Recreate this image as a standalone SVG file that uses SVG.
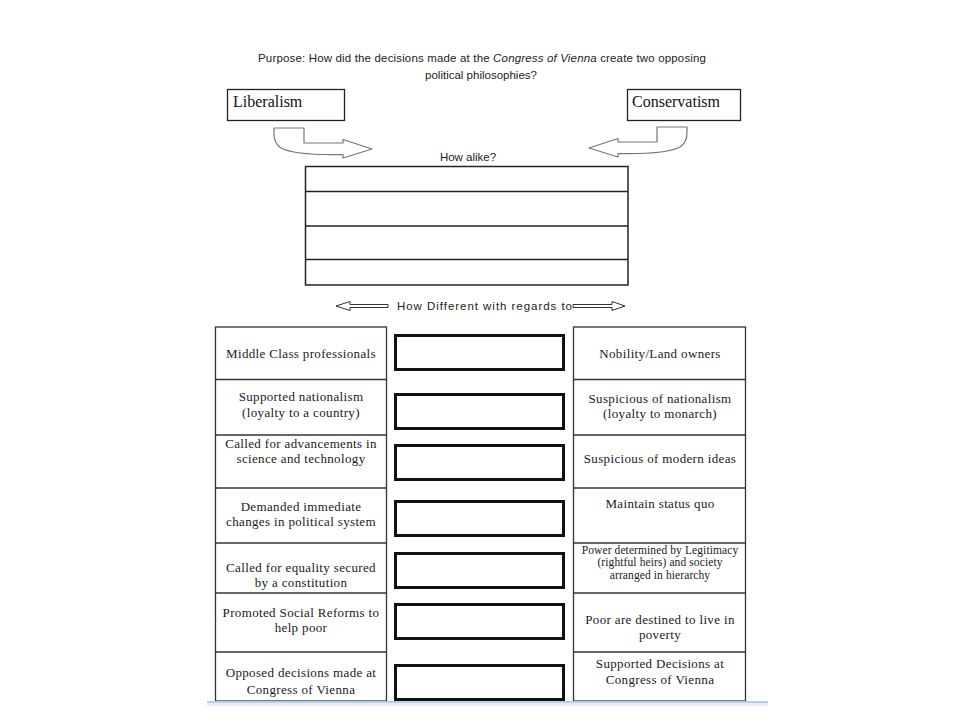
<svg xmlns="http://www.w3.org/2000/svg" width="960" height="720" viewBox="0 0 960 720">
<style>
.bg{fill:#ffffff}
.comic{font-family:"Liberation Sans","DejaVu Sans",sans-serif;fill:#222;font-size:11.5px}
.hdr{fill:#fff;stroke:#222;stroke-width:1.3}
.hdrt{font-family:"Liberation Serif","Times New Roman",serif;font-size:16px;fill:#111}
.col{fill:#fff;stroke:#333;stroke-width:1.3}
.row{stroke:#333;stroke-width:1.3}
.mid{fill:#fff;stroke:#111;stroke-width:3}
.cell{font-family:"Liberation Serif","Times New Roman",serif;font-size:13px;fill:#1a1a1a;text-anchor:middle;letter-spacing:0.35px}
.small{font-size:11.5px;letter-spacing:0.1px}
.curv{fill:#fff;stroke:#777;stroke-width:1.2;stroke-linejoin:round}
.dbl{fill:#fff;stroke:#333;stroke-width:1}
.sim{fill:#fff;stroke:#222;stroke-width:1.5}
</style>
<rect class="bg" x="0" y="0" width="960" height="720"/>

<g id="title">
<text class="comic" x="258" y="62" textLength="448">Purpose: How did the decisions made at the <tspan font-style="italic">Congress of Vienna</tspan> create two opposing</text>
<text class="comic" x="481" y="79" text-anchor="middle">political philosophies?</text>
</g>

<g id="liberalism">
<rect class="hdr" x="227.5" y="89.5" width="117" height="31"/>
<text class="hdrt" x="233" y="107">Liberalism</text>
</g>
<g id="conservatism">
<rect class="hdr" x="627.5" y="89.5" width="113" height="31"/>
<text class="hdrt" x="632" y="107">Conservatism</text>
</g>

<g id="connectors">
<path class="curv" d="M274,128 L304,128 L304,143 L343,143 L343,139.5 L372,149 L343,158 L343,154.5 C318,155 292,154 281,148 C275,144 274,139 274,134 Z"/>
<path class="curv" transform="matrix(-1,0,0,1,961,-1)" d="M274,128 L304,128 L304,143 L343,143 L343,139.5 L372,149 L343,158 L343,154.5 C318,155 292,154 281,148 C275,144 274,139 274,134 Z"/>
<path class="dbl" d="M336,306 L350,301.5 L350,304.5 L388,304.5 L388,307.5 L350,307.5 L350,310.5 Z"/>
<path class="dbl" d="M573,304.5 L612,304.5 L612,301.5 L625,306 L612,310.5 L612,307.5 L573,307.5 Z"/>
</g>

<g id="how-alike">
<text class="comic" x="468" y="161" text-anchor="middle" font-size="12">How alike?</text>
<rect class="sim" x="305.5" y="166.5" width="322.5" height="118.5"/>
<line class="sim" x1="305.5" y1="191.5" x2="628" y2="191.5"/>
<line class="sim" x1="305.5" y1="226" x2="628" y2="226"/>
<line class="sim" x1="305.5" y1="259.5" x2="628" y2="259.5"/>
</g>

<g id="how-different">
<text class="comic" x="397" y="309.5" textLength="175">How Different with regards to</text>
</g>

<g id="liberal-column">
<rect class="col" x="215.5" y="327" width="171" height="374"/>
<line class="row" x1="215.5" y1="379.5" x2="386.5" y2="379.5"/>
<line class="row" x1="215.5" y1="435" x2="386.5" y2="435"/>
<line class="row" x1="215.5" y1="488" x2="386.5" y2="488"/>
<line class="row" x1="215.5" y1="543" x2="386.5" y2="543"/>
<line class="row" x1="215.5" y1="593" x2="386.5" y2="593"/>
<line class="row" x1="215.5" y1="652" x2="386.5" y2="652"/>
<text class="cell" x="301" y="358">Middle Class professionals</text>
<text class="cell" x="301" y="401">Supported nationalism</text>
<text class="cell" x="301" y="416.5">(loyalty to a country)</text>
<text class="cell" x="301" y="448">Called for advancements in</text>
<text class="cell" x="301" y="463">science and technology</text>
<text class="cell" x="301" y="511">Demanded immediate</text>
<text class="cell" x="301" y="526">changes in political system</text>
<text class="cell" x="301" y="572">Called for equality secured</text>
<text class="cell" x="301" y="587">by a constitution</text>
<text class="cell" x="301" y="617">Promoted Social Reforms to</text>
<text class="cell" x="301" y="632">help poor</text>
<text class="cell" x="301" y="677">Opposed decisions made at</text>
<text class="cell" x="301" y="694">Congress of Vienna</text>
</g>

<g id="answer-boxes">
<rect class="mid" x="395.5" y="335.5" width="168" height="34"/>
<rect class="mid" x="395.5" y="394.5" width="168" height="34"/>
<rect class="mid" x="395.5" y="445.5" width="168" height="34"/>
<rect class="mid" x="395.5" y="501.5" width="168" height="34"/>
<rect class="mid" x="395.5" y="553.5" width="168" height="34"/>
<rect class="mid" x="395.5" y="604.5" width="168" height="34"/>
<rect class="mid" x="395.5" y="665.5" width="168" height="34"/>
</g>

<g id="conservative-column">
<rect class="col" x="573.5" y="327" width="172" height="374"/>
<line class="row" x1="573.5" y1="379.5" x2="745.5" y2="379.5"/>
<line class="row" x1="573.5" y1="435" x2="745.5" y2="435"/>
<line class="row" x1="573.5" y1="488" x2="745.5" y2="488"/>
<line class="row" x1="573.5" y1="543" x2="745.5" y2="543"/>
<line class="row" x1="573.5" y1="593" x2="745.5" y2="593"/>
<line class="row" x1="573.5" y1="652" x2="745.5" y2="652"/>
<text class="cell" x="660" y="358">Nobility/Land owners</text>
<text class="cell" x="660" y="403">Suspicious of nationalism</text>
<text class="cell" x="660" y="418">(loyalty to monarch)</text>
<text class="cell" x="660" y="463">Suspicious of modern ideas</text>
<text class="cell" x="660" y="508">Maintain status quo</text>
<text class="cell small" x="660" y="554">Power determined by Legitimacy</text>
<text class="cell small" x="660" y="566">(rightful heirs) and society</text>
<text class="cell small" x="660" y="578.5">arranged in hierarchy</text>
<text class="cell" x="660" y="624">Poor are destined to live in</text>
<text class="cell" x="660" y="639">poverty</text>
<text class="cell" x="660" y="668">Supported Decisions at</text>
<text class="cell" x="660" y="684">Congress of Vienna</text>
</g>

<rect x="207" y="701" width="561" height="2" fill="#b9cde5"/>
<rect x="207" y="703" width="561" height="3" fill="#e6eef8"/>
</svg>
